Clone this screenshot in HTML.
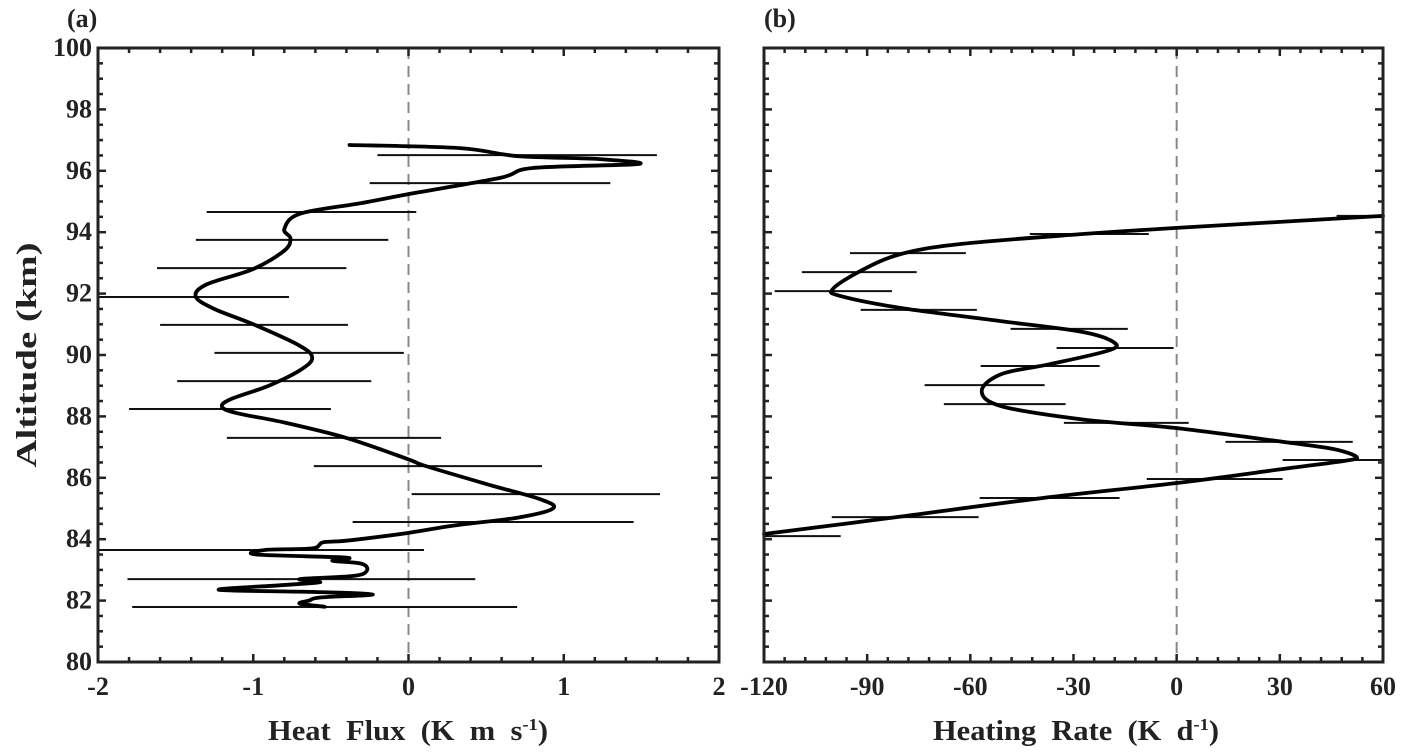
<!DOCTYPE html>
<html><head><meta charset="utf-8"><style>
html,body{margin:0;padding:0;background:#fff}
svg{display:block}
text{font-family:"Liberation Serif",serif;font-weight:bold;fill:#222}
</style></head><body>
<svg id="chart" width="1411" height="755" viewBox="0 0 1411 755"></svg>
<script>
// Panel (a) heat flux curve
const fluxX = [-0.54,-0.70,-0.64,-0.57,-0.23,-0.60,-1.22,-0.83,-0.57,-0.70,-0.36,-0.27,-0.30,-0.49,-0.40,-0.98,-0.92,-0.62,-0.55,-0.40,-0.01,0.3,0.7,0.93,0.85,0.5,0.1,0,-0.4,-0.8,-1.1,-1.2,-1.15,-0.9,-0.7,-0.62,-0.7,-1.0,-1.25,-1.37,-1.3,-1.0,-0.8,-0.76,-0.8,-0.7,-0.3,0,0.59,0.8,1.48,1.23,0.70,0.33,-0.38];
const fluxAlt = [81.8,81.9,82.0,82.1,82.2,82.28,82.35,82.5,82.6,82.7,82.8,82.96,83.2,83.3,83.4,83.5,83.65,83.7,83.9,83.95,84.2,84.45,84.7,85.0,85.3,85.8,86.4,86.6,87.3,87.8,88.1,88.3,88.55,89.0,89.5,89.9,90.3,91.0,91.5,91.9,92.3,92.8,93.4,93.8,94.1,94.6,94.95,95.24,95.77,96.09,96.22,96.38,96.48,96.74,96.84];
const fluxErrAlt = [96.51,95.60,94.66,93.75,92.83,91.89,90.98,90.07,89.15,88.24,87.30,86.38,85.47,84.56,83.65,82.70,81.79];
const fluxErrLo = [-0.2,-0.25,-1.3,-1.37,-1.62,-2.0,-1.6,-1.25,-1.49,-1.8,-1.17,-0.61,0.02,-0.36,-2.0,-1.81,-1.78];
const fluxErrHi = [1.6,1.3,0.05,-0.13,-0.4,-0.77,-0.39,-0.03,-0.24,-0.5,0.21,0.86,1.62,1.45,0.1,0.43,0.7];
const fluxTicks = ["-2","-1","0","1","2"];
// Panel (b) heating rate
const rateX = [-120,-81.4,-39.2,0,31.1,48.8,52.3,45.4,31,0,-27.3,-50.9,-56.7,-50.9,-36.9,-20.3,-18,-27.3,-50.9,-80.2,-97.7,-100,-91.9,-80.2,-62.5,-27.3,0,60];
const rateAlt = [84.17,84.72,85.34,85.83,86.29,86.55,86.68,86.94,87.17,87.62,87.9,88.33,88.83,89.38,89.7,90.13,90.39,90.75,91.1,91.53,91.92,92.15,92.74,93.29,93.62,93.94,94.14,94.53];
const rateErrAlt = [94.53,93.94,93.32,92.70,92.08,91.47,90.85,90.23,89.64,89.02,88.40,87.79,87.17,86.58,85.96,85.34,84.72,84.10];
const rateErrLo = [46.5,-42.7,-95,-109,-116.9,-91.9,-48.3,-34.9,-57,-73.3,-67.7,-32.8,14.2,30.8,-8.7,-57.3,-100.3,-120];
const rateErrHi = [60,-8.1,-61.3,-75.6,-82.8,-58.1,-14.2,-0.9,-22.4,-38.4,-32.3,3.5,51.2,60,30.8,-16.6,-57.6,-97.7];
const rateTicks = ["-120","-90","-60","-30","0","30","60"];
const altTicks = ["80","82","84","86","88","90","92","94","96","98","100"];

const svg = document.getElementById('chart');
const NS = 'http://www.w3.org/2000/svg';
function mk(tag, attrs, parent){const e=document.createElementNS(NS,tag);for(const k in attrs)e.setAttribute(k,attrs[k]);(parent||svg).appendChild(e);return e;}
const pTop=48, pBot=662;
function yS(a){return pBot-(a-80)/20*(pBot-pTop);}
function smooth(pts){let d='M'+pts[0][0]+','+pts[0][1];for(let i=0;i<pts.length-1;i++){const p0=pts[Math.max(0,i-1)],p1=pts[i],p2=pts[i+1],p3=pts[Math.min(pts.length-1,i+2)];const c1=[p1[0]+(p2[0]-p0[0])/6,p1[1]+(p2[1]-p0[1])/6];const c2=[p2[0]-(p3[0]-p1[0])/6,p2[1]-(p3[1]-p1[1])/6];d+=' C'+c1[0].toFixed(1)+','+c1[1].toFixed(1)+' '+c2[0].toFixed(1)+','+c2[1].toFixed(1)+' '+p2[0].toFixed(1)+','+p2[1].toFixed(1);}return d;}

function panel(id,L,R,xmin,xmax,ticks,minorStep,cx,ca,eA,eL,eH,showY){
  const g=mk('g',{});
  
  
  const xS=v=>L+(v-xmin)/(xmax-xmin)*(R-L);
  const z=mk('line',{x1:xS(0),x2:xS(0),y1:pTop,y2:pBot,stroke:'#888','stroke-width':2,'stroke-dasharray':'11,7'},g);
  
  
  const tg=mk('g',{stroke:'#222','stroke-width':2.5},g);
  
  
  const major=(xmax-xmin)/(ticks.length-1);
  for(let v=xmin;v<=xmax+1e-9;v+=minorStep){const isM=Math.abs(((v-xmin)/major)-Math.round((v-xmin)/major))<1e-6;const len=isM?8:5;const x=xS(v);
    mk('line',{x1:x,x2:x,y1:pBot,y2:pBot-len},tg);mk('line',{x1:x,x2:x,y1:pTop,y2:pTop+len},tg);}
  for(let a=80;a<=100.001;a+=0.5){const isM=Math.abs(a/2-Math.round(a/2))<1e-6;const len=isM?8:5;const y=yS(a);
    mk('line',{x1:L,x2:L+len,y1:y,y2:y},tg);mk('line',{x1:R,x2:R-len,y1:y,y2:y},tg);}
  ticks.forEach((t,i)=>{const e=mk('text',{x:xS(xmin+i*major),y:695,'text-anchor':'middle','font-size':26},g);e.textContent=t;
    
    });
  if(showY) altTicks.forEach(t=>{const e=mk('text',{x:L-6,y:yS(+t)+8,'text-anchor':'end','font-size':26},g);e.textContent=t;
    
    });
  const eg=mk('g',{stroke:'#111','stroke-width':2},g);
  
  
  eA.forEach((a,i)=>{const b=mk('line',{x1:Math.max(L,xS(eL[i])),x2:Math.min(R,xS(eH[i])),y1:yS(a),y2:yS(a)},eg);
    
    });
  const pts=cx.map((v,i)=>[xS(v),yS(ca[i])]);
  const c=mk('path',{d:smooth(pts),fill:'none',stroke:'#000','stroke-width':3.8,'stroke-linejoin':'round','stroke-linecap':'round'},g);
  
  
  const f=mk('rect',{x:L,y:pTop,width:R-L,height:pBot-pTop,fill:'none',stroke:'#222','stroke-width':3},g);
  
  
  return g;
}
panel('panel-a-heat-flux',98,719,-2,2,fluxTicks,0.2,fluxX,fluxAlt,fluxErrAlt,fluxErrLo,fluxErrHi,true);
panel('panel-b-heating-rate',764,1383,-120,60,rateTicks,6,rateX,rateAlt,rateErrAlt,rateErrLo,rateErrHi,false);

function txt(s,attrs,name){const e=mk('text',attrs);e.innerHTML=s;
  
  
  return e;}
txt('(a)',{x:67,y:27,'font-size':26},'panel-a-label');
txt('(b)',{x:764,y:27,'font-size':26},'panel-b-label');
txt('Heat&#160;&#160;Flux&#160;&#160;(K&#160;&#160;m&#160;&#160;s<tspan dy="-10" font-size="17">-1</tspan><tspan dy="10">)</tspan>',{x:268,y:740,'font-size':28,textLength:280,lengthAdjust:'spacingAndGlyphs'},'x-axis-title-a');
txt('Heating&#160;&#160;Rate&#160;&#160;(K&#160;&#160;d<tspan dy="-10" font-size="17">-1</tspan><tspan dy="10">)</tspan>',{x:933,y:740,'font-size':28,textLength:286,lengthAdjust:'spacingAndGlyphs'},'x-axis-title-b');
txt('Altitude (km)',{x:0,y:0,'text-anchor':'middle','font-size':28,textLength:225,lengthAdjust:'spacingAndGlyphs',transform:'translate(36,355) rotate(-90)'},'y-axis-title');
</script>
</body></html>
